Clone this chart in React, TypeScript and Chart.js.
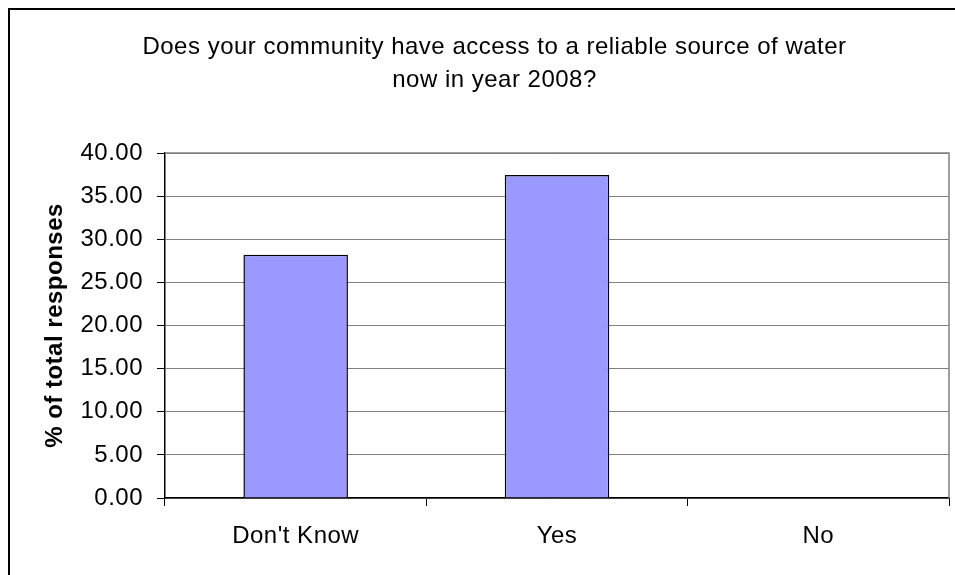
import React, { useEffect, useRef } from "react";
import { Chart, registerables } from "chart.js";

Chart.register(...registerables);

const titleLines = [
  "Does your community have access to a reliable source of water",
  "now in year 2008?",
];
const categories = ["Don't Know", "Yes", "No"];
const responses = [28.2, 37.45, 0];
const yAxisTitle = "% of total responses";
const yMin = 0;
const yMax = 40;
const yStep = 5;

const FONT = "'Liberation Sans', Arial, sans-serif";

const framePlugin = {
  id: "frame",
  beforeDraw(chart: any) {
    const ctx = chart.ctx;
    ctx.letterSpacing = "0.5px";
  },
  afterDraw(chart: any) {
    const ctx = chart.ctx;
    const { left, top, right, bottom } = chart.chartArea;
    ctx.save();
    ctx.strokeStyle = "#808080";
    ctx.lineWidth = 1.5;
    ctx.beginPath();
    ctx.moveTo(left, top);
    ctx.lineTo(right, top);
    ctx.lineTo(right, bottom);
    ctx.stroke();
    ctx.strokeStyle = "#000";
    ctx.lineWidth = 2;
    ctx.beginPath();
    ctx.moveTo(9, 2000);
    ctx.lineTo(9, 9);
    ctx.lineTo(2000, 9);
    ctx.stroke();
    ctx.restore();
  },
};

export default function App() {
  const ref = useRef<HTMLCanvasElement>(null);
  useEffect(() => {
    if (!ref.current) return;
    const chart = new Chart(ref.current, {
      type: "bar",
      data: {
        labels: categories,
        datasets: [
          {
            data: responses,
            backgroundColor: "#9999FF",
            borderColor: "#000000",
            borderWidth: 1.5,
            barPercentage: 0.4,
            categoryPercentage: 1,
          },
        ],
      },
      plugins: [framePlugin],
      options: {
        responsive: false,
        animation: false,
        devicePixelRatio: 1,
        layout: { padding: { left: 40, right: 6, top: 0, bottom: 0 } },
        plugins: {
          legend: { display: false },
          tooltip: { enabled: false },
          title: {
            display: true,
            text: titleLines,
            color: "#000",
            font: { family: FONT, size: 24, weight: "normal", lineHeight: 1.375 },
            padding: { top: 31, bottom: 56 },
          },
        },
        scales: {
          x: {
            offset: true,
            grid: {
              offset: true,
              drawOnChartArea: false,
              drawTicks: true,
              tickLength: 8,
              tickColor: "#000",
              lineWidth: 1,
            },
            border: { color: "#000", width: 1.5 },
            ticks: {
              color: "#000",
              padding: 16,
              font: { family: FONT, size: 24 },
              maxRotation: 0,
            },
            afterFit(scale: any) {
              scale.height = 77;
            },
          },
          y: {
            min: yMin,
            max: yMax,
            grid: {
              color: "#808080",
              lineWidth: 1,
              tickLength: 8,
              tickColor: "#000",
            },
            border: { color: "#000", width: 1.5 },
            ticks: {
              stepSize: yStep,
              color: "#000",
              padding: 14,
              font: { family: FONT, size: 24 },
              callback: (v: any) => Number(v).toFixed(2),
            },
            title: {
              display: true,
              text: yAxisTitle,
              color: "#000",
              font: { family: FONT, size: 24, weight: "bold" },
              padding: { top: 1, bottom: 0 },
            },
            afterFit(scale: any) {
              scale.width = 125;
            },
          },
        },
      },
    });
    return () => chart.destroy();
  }, []);
  return (
    <div
      style={{
        position: "absolute",
        left: 0,
        top: 0,
        width: 955,
        height: 575,
        overflow: "hidden",
        background: "#fff",
      }}
    >
      <canvas ref={ref} width={955} height={575} style={{ width: 955, height: 575 }} />
    </div>
  );
}
